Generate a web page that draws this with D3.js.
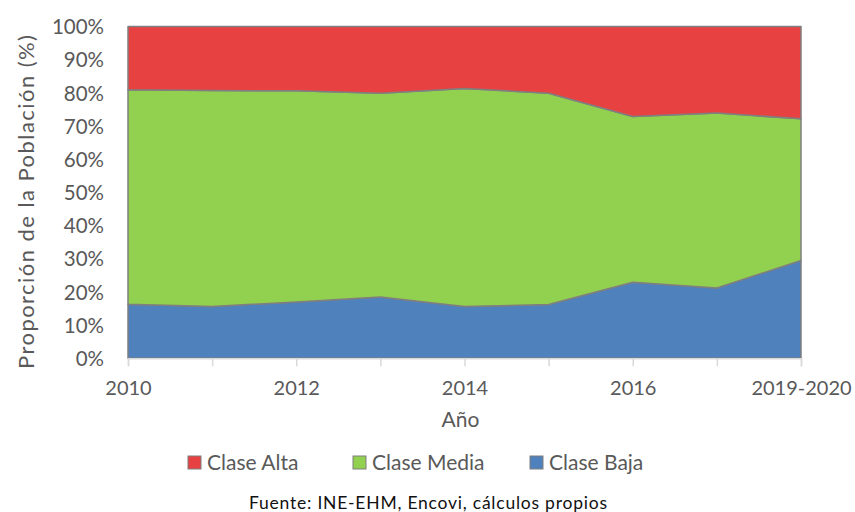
<!DOCTYPE html>
<html><head><meta charset="utf-8">
<script src="https://cdn.jsdelivr.net/npm/d3@7"></script>
<style>body{margin:0;background:#fff}svg{display:block}</style>
</head><body><svg id="c" width="855" height="512"></svg>
<script>
const years = ["2010","2011","2012","2013","2014","2015","2016","2017","2019-2020"];
const shownTicks = ["2010","2012","2014","2016","2019-2020"];
const claseBaja  = [16.3, 15.6, 17.0, 18.5, 15.6, 16.2, 22.9, 21.2, 29.5];
const claseMedia = [64.6, 65.1, 63.6, 61.4, 65.7, 63.7, 50.0, 52.7, 42.7];
const claseAlta  = [19.1, 19.3, 19.4, 20.1, 18.7, 20.1, 27.1, 26.1, 27.8];
const seriesNames = ["Clase Baja","Clase Media","Clase Alta"];
const colors = {"Clase Baja":"#4F81BD","Clase Media":"#92D050","Clase Alta":"#E84141"};
const yTicks = [0,10,20,30,40,50,60,70,80,90,100];

const rows = years.map((y,i)=>({year:y,"Clase Baja":claseBaja[i],"Clase Media":claseMedia[i],"Clase Alta":claseAlta[i]}));
const svg = d3.select("#c");
const L=128, R=801, T=26.5, B=358.3;
const font = "Lato, 'Open Sans', sans-serif";
const txt = "#595959";

const x = d3.scalePoint().domain(years).range([L,R]);
const y = d3.scaleLinear().domain([0,100]).range([B,T]);

const stack = d3.stack().keys(seriesNames);
const layers = stack(rows);
const area = d3.area().x(d=>x(d.data.year)).y0(d=>y(d[0])).y1(d=>y(d[1]));

svg.append("g").selectAll("path").data(layers).join("path")
  .attr("d",area).attr("fill",d=>colors[d.key])
  .attr("stroke","#7F7F7F").attr("stroke-width",1.5).attr("stroke-linejoin","round");

// x axis
const xa = svg.append("g").attr("transform",`translate(0,${B})`)
  .call(d3.axisBottom(x).tickSize(8).tickFormat(d=>shownTicks.includes(d)?d:""));
xa.select(".domain").attr("stroke","#D9D9D9").attr("stroke-width",1.5);
xa.selectAll(".tick line").attr("stroke","#D9D9D9").attr("stroke-width",1.5);
xa.selectAll(".tick text").attr("fill",txt).attr("font-family",font).attr("font-size",20).attr("dy","1.3em");

// y axis labels
const ya = svg.append("g").attr("transform",`translate(${L},0)`)
  .call(d3.axisLeft(y).tickValues(yTicks).tickSize(0).tickPadding(24).tickFormat(d=>d+"%"));
ya.select(".domain").remove();
ya.selectAll(".tick text").attr("fill",txt).attr("font-family",font).attr("font-size",20.5).attr("dy","0.35em");

svg.append("text").attr("x",(L+R)/2-4).attr("y",427).attr("text-anchor","middle")
  .attr("fill",txt).attr("font-family",font).attr("font-size",21).text("Año");
svg.append("text").attr("transform",`translate(34,202) rotate(-90)`).attr("text-anchor","middle")
  .attr("fill",txt).attr("font-family",font).attr("font-size",22)
  .attr("textLength",334).attr("lengthAdjust","spacing").text("Proporción de la Población (%)");

// legend
const legendItems = ["Clase Alta","Clase Media","Clase Baja"];
const legX = [188,353,530];
const lg = svg.append("g");
legendItems.forEach((k,i)=>{
  lg.append("rect").attr("x",legX[i]).attr("y",456).attr("width",13).attr("height",13)
    .attr("fill",colors[k]).attr("stroke","#7F7F7F").attr("stroke-width",1);
  lg.append("text").attr("x",legX[i]+19).attr("y",470).attr("fill",txt)
    .attr("font-family",font).attr("font-size",21).text(k);
});
svg.append("text").attr("x",428).attr("y",509).attr("text-anchor","middle").attr("fill","#111")
  .attr("font-family",font).attr("font-size",17.5)
  .attr("textLength",358).attr("lengthAdjust","spacing").text("Fuente: INE-EHM, Encovi, cálculos propios");
</script></body></html>
